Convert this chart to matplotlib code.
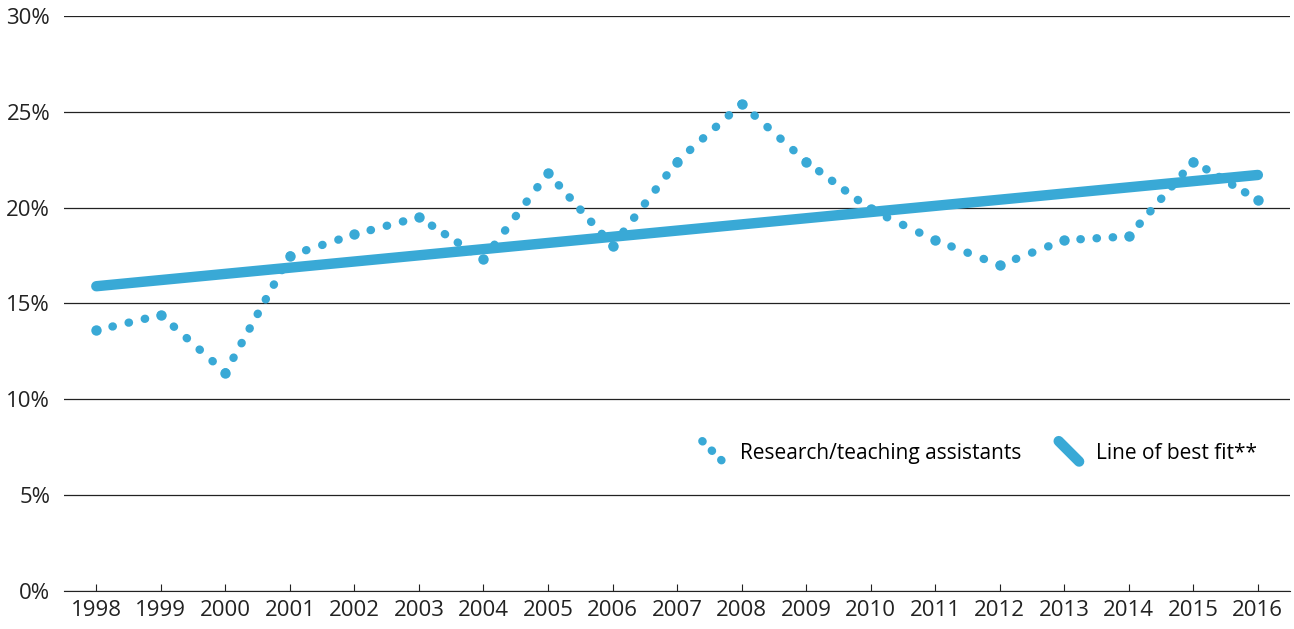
import numpy as np
import matplotlib.pyplot as plt
from matplotlib.lines import Line2D
from matplotlib.legend_handler import HandlerLine2D

years = list(range(1998, 2017))
share = [13.6, 14.4, 11.4, 17.5, 18.6, 19.5, 17.3, 21.8, 18.0, 22.4,
         25.4, 22.4, 19.9, 18.3, 17.0, 18.3, 18.5, 22.4, 20.4]
fit_start, fit_end = 15.9, 21.7

blue = '#39a9d6'
dot_lw = 6.0
dot_step = 12.0  # points between dots
plt.rcParams['font.family'] = ['Open Sans', 'DejaVu Sans']


class DiagonalHandler(HandlerLine2D):
    # legend key drawn as a short diagonal line
    def create_artists(self, legend, orig, xd, yd, w, h, fs, trans):
        ln = Line2D([xd + w * 0.15, xd + w * 0.85], [yd + h * 1.2, yd - h * 0.2])
        self.update_prop(ln, orig, legend)
        ln.set_transform(trans)
        return [ln]


fig = plt.figure(figsize=(12.94, 6.29), dpi=100)
ax = fig.add_axes([0.0495, 0.06, 0.9475, 0.915])
ax.set_xlim(1997.5, 2016.5)
ax.set_ylim(0, 30)

# dotted series: each segment drawn on its own so the dots fit evenly
for i in range(len(years) - 1):
    p = ax.transData.transform([(years[i], share[i]), (years[i + 1], share[i + 1])])
    length = np.hypot(*(p[1] - p[0])) * 72 / fig.dpi
    n = max(1, round(length / dot_step))
    gap = length / n / dot_lw - 0.05
    ax.plot(years[i:i + 2], share[i:i + 2], color=blue, lw=dot_lw,
            dashes=(0.05, gap), dash_capstyle='round', zorder=3)
ax.plot(years, share, color=blue, linestyle='none', marker='o', ms=7.5,
        markeredgewidth=0, zorder=4)
ax.plot([years[0], years[-1]], [fit_start, fit_end], color=blue, lw=7.5,
        solid_capstyle='round', zorder=2)

ax.set_xticks(years)
ax.set_yticks(range(0, 31, 5))
ax.set_yticklabels([f'{v}%' for v in range(0, 31, 5)])
ax.grid(axis='y', color='#222222', lw=0.9)
ax.set_axisbelow(True)
for s in ['top', 'right', 'left']:
    ax.spines[s].set_visible(False)
ax.spines['bottom'].set_color('#222222')
ax.tick_params(axis='y', length=0, labelsize=16, colors='#222222', pad=10)
ax.tick_params(axis='x', length=5, labelsize=16, colors='#222222',
               direction='in', pad=6)

handles = [
    Line2D([], [], color=blue, lw=dot_lw, dashes=(0.05, 1.55), dash_capstyle='round'),
    Line2D([], [], color=blue, lw=7.5, solid_capstyle='round'),
]
labels = ['Research/teaching assistants', 'Line of best fit**']
ax.legend(handles, labels, loc='center', bbox_to_anchor=(0.745, 0.24), ncol=2,
          frameon=False, fontsize=15, handlelength=1.4, handletextpad=0.6,
          columnspacing=1.6, handler_map={Line2D: DiagonalHandler()})

fig.savefig('out.png', dpi=100)
